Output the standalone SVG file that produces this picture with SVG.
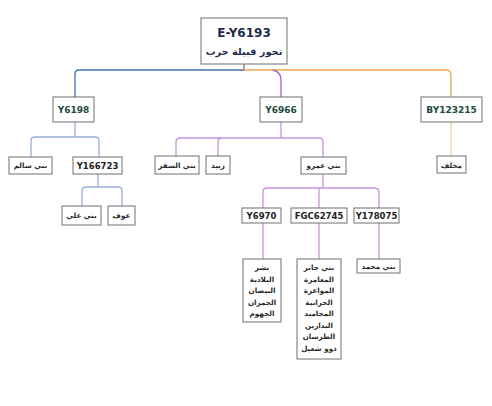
<svg xmlns="http://www.w3.org/2000/svg" width="492" height="406" viewBox="0 0 492 406">
<style>
.box{fill:#fff;stroke:#6e6e6e;stroke-width:1}
.id{font-family:"DejaVu Sans",sans-serif;font-weight:bold;font-size:8.5px;fill:#222;text-anchor:middle}
.hg{font-family:"DejaVu Sans",sans-serif;font-weight:bold;font-size:9px;fill:#1d4a3a;text-anchor:middle}
.ar{font-family:"DejaVu Sans",sans-serif;font-weight:bold;font-size:7.2px;fill:#2a2a2a;text-anchor:middle}
.c{fill:none;stroke-width:1.3}
.blue{stroke:#4a6db0}
.lblue{stroke:#9aaedb}
.purple{stroke:#a75bd6}
.lpurple{stroke:#c693e2}
.orange{stroke:#eaa84c}
.lorange{stroke:#ecd59a}
</style>
<rect width="492" height="406" fill="#fff"/>
<g id="connectors">
<path class="c" d="M244 64V70" stroke="#777"/>
<path class="c blue" d="M244 70H79Q75 70 75 74V97"/>
<path class="c orange" d="M244 70H446Q451 70 451 75V97"/>
<path class="c purple" d="M273 70Q281 72 281 80V97"/>
<path class="c lblue" d="M75 122V137M35 137H95Q99 137 99 141V157M35 137Q31 137 31 141V157"/>
<path class="c lblue" d="M98 174V187M86 187H118Q122 187 122 191V206M86 187Q82 187 82 191V206"/>
<path class="c lpurple" d="M281 122V138M180 138H319Q323 138 323 142V157M180 138Q176 138 176 142V156M222 138Q218 138 218 142V156"/>
<path class="c lpurple" d="M323 174V188M267 188H374Q379 188 379 192V208M267 188Q263 188 263 192V208M319 188V208"/>
<path class="c lpurple" d="M263 223V259M319 223V259M379 223V259"/>
<path class="c lorange" d="M451 122V156"/>
</g>
<g id="root">
<rect class="box" x="201" y="18" width="86" height="46"/>
<text x="244" y="37" font-family="DejaVu Sans,sans-serif" font-weight="bold" font-size="12" fill="#1f2b4d" text-anchor="middle">E-Y6193</text>
<text x="244" y="55" font-family="DejaVu Sans,sans-serif" font-weight="bold" font-size="9.8" fill="#1f2b4d" text-anchor="middle">تحور قبيلة حرب</text>
</g>
<g id="n-Y6198"><rect class="box" x="53" y="97" width="41" height="25"/><text class="hg" x="73.5" y="113">Y6198</text></g>
<g id="n-Y6966"><rect class="box" x="260" y="97" width="42" height="25"/><text class="hg" x="281" y="113">Y6966</text></g>
<g id="n-BY123215"><rect class="box" x="421" y="97" width="61" height="25"/><text class="hg" x="451.5" y="113">BY123215</text></g>
<g id="n-bani-salem"><rect class="box" x="9" y="157" width="43" height="17"/><text class="ar" x="30.5" y="168">بني سالم</text></g>
<g id="n-Y166723"><rect class="box" x="73" y="157" width="49" height="17"/><text class="id" x="97.5" y="168.5">Y166723</text></g>
<g id="n-bani-ali"><rect class="box" x="62" y="206" width="39" height="19"/><text class="ar" x="81.5" y="218">بني علي</text></g>
<g id="n-awf"><rect class="box" x="108" y="206" width="27" height="19"/><text class="ar" x="121.5" y="218">عوف</text></g>
<g id="n-bani-safar"><rect class="box" x="155" y="156" width="44" height="18"/><text class="ar" x="177" y="168">بني السفر</text></g>
<g id="n-zubaid"><rect class="box" x="206" y="156" width="24" height="18"/><text class="ar" x="218" y="168">زبيد</text></g>
<g id="n-bani-amr"><rect class="box" x="301" y="157" width="45" height="17"/><text class="ar" x="323.5" y="168">بني عمرو</text></g>
<g id="n-mukhlif"><rect class="box" x="437" y="156" width="29" height="17"/><text class="ar" x="451.5" y="167.5">مخلف</text></g>
<g id="n-Y6970"><rect class="box" x="242" y="208" width="39" height="15"/><text class="id" x="261.5" y="218.5">Y6970</text></g>
<g id="n-FGC62745"><rect class="box" x="291" y="208" width="56" height="15"/><text class="id" x="319" y="218.5">FGC62745</text></g>
<g id="n-Y178075"><rect class="box" x="354" y="208" width="45" height="15"/><text class="id" x="376.5" y="218.5">Y178075</text></g>
<g id="n-Y6970-tribes"><rect class="box" x="243" y="259" width="38" height="63"/>
<text class="ar" x="262" y="270">بشر</text>
<text class="ar" x="262" y="281.5">البلادية</text>
<text class="ar" x="262" y="293">البيضان</text>
<text class="ar" x="262" y="304.5">الحمران</text>
<text class="ar" x="262" y="316">الجهوم</text>
</g>
<g id="n-FGC62745-tribes"><rect class="box" x="297" y="259" width="44" height="100"/>
<text class="ar" x="319" y="270">بني جابر</text>
<text class="ar" x="319" y="281.5">المعامرة</text>
<text class="ar" x="319" y="293">المواعزة</text>
<text class="ar" x="319" y="304.5">الحرابية</text>
<text class="ar" x="319" y="316">المحاميد</text>
<text class="ar" x="319" y="327.5">البدارين</text>
<text class="ar" x="319" y="339">الطرسان</text>
<text class="ar" x="319" y="350.5">ذوو شعيل</text>
</g>
<g id="n-bani-muhammad"><rect class="box" x="357" y="259" width="43" height="14"/><text class="ar" x="378.5" y="269">بني محمد</text></g>
</svg>
